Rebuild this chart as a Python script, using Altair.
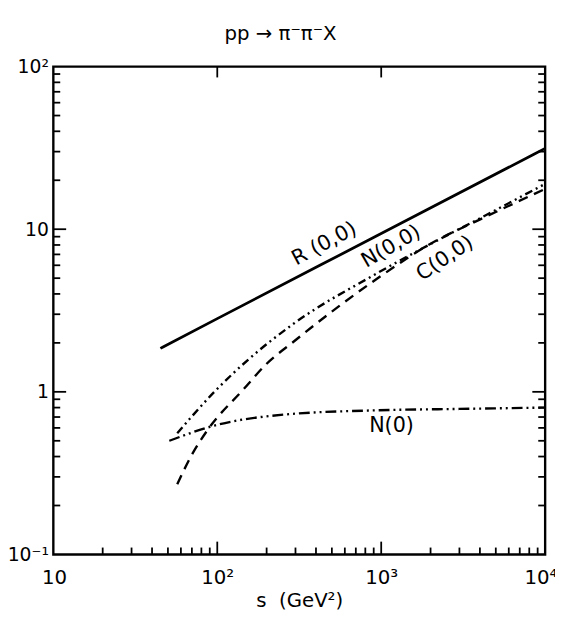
import altair as alt
import pandas as pd

# ---- data (s in GeV^2, y values) ----
R_s = [45, 100, 1000, 10000]
R_y = [1.85, 2.82, 9.4, 31.4]

N00_s = [57, 96, 157, 293, 910, 2090, 4020, 10000]
N00_y = [0.556, 1.0, 1.60, 2.63, 5.25, 8.3, 11.7, 19.0]

C00_s = [57, 69, 87, 145, 199, 293, 910, 2090, 4020, 10000]
C00_y = [0.27, 0.40, 0.58, 1.04, 1.48, 2.04, 4.84, 8.34, 11.5, 17.7]

N0_s = [51, 96, 262, 950, 3000, 10000]
N0_y = [0.50, 0.62, 0.726, 0.77, 0.785, 0.80]

label_text = ["R (0,0)", "N(0,0)", "C(0,0)", "N(0)"]
label_s = [450, 1150, 2450, 1156]
label_y = [8.1, 7.8, 6.6, 0.612]
label_angle = [332, 330, 326, 0]

x_major = [100, 1000]
x_minor = [m * d for d in (10, 100, 1000) for m in range(2, 10)]
y_major = [1, 10]
y_minor = [m * d for d in (0.1, 1, 10) for m in range(2, 10)]

W, H = 499, 495
FONT = "DejaVu Sans"

xs = alt.Scale(type="log", domain=[10, 10000])
ys = alt.Scale(type="log", domain=[0.1, 100])

xaxis = alt.Axis(values=[10, 100, 1000, 10000],
                 labelExpr="datum.value <= 11 ? '10' : datum.value <= 110 ? '10²' : datum.value <= 1100 ? '10³' : '10⁴'",
                 ticks=False, domain=False, grid=False, labelFontSize=20, labelFont=FONT,
                 labelPadding=13, labelColor="black", title="s\u00a0\u00a0(GeV²)", titleFont=FONT,
                 titleFontSize=20, titleFontWeight="normal", titlePadding=4, titleColor="black",
                 labelFlush=True, labelFlushOffset=12)
yaxis = alt.Axis(values=[0.1, 1, 10, 100],
                 labelExpr="datum.value >= 99 ? '10²' : datum.value >= 9 ? '10' : datum.value >= 0.9 ? '1' : '10⁻¹'",
                 ticks=False, domain=False, grid=False, labelFontSize=19, labelFont=FONT,
                 labelPadding=5, labelColor="black", title=None, labelFlush=False)


def curve(s, y, dash, width):
    df = pd.DataFrame({"s": s, "y": y})
    kw = dict(color="black", strokeWidth=width, interpolate="monotone", clip=True)
    if dash:
        kw["strokeDash"] = dash
    return alt.Chart(df).mark_line(**kw).encode(
        x=alt.X("s:Q", scale=xs, axis=xaxis),
        y=alt.Y("y:Q", scale=ys, axis=yaxis),
    )


base_layers = [
    curve(R_s, R_y, None, 2.8),
    curve(N00_s, N00_y, [8, 4, 2, 4, 2, 4], 2.4),
    curve(C00_s, C00_y, [10, 7], 2.4),
    curve(N0_s, N0_y, [11, 4, 2, 4, 2, 4], 2.4),
]

# curve labels
lab_layers = []
for t, s, y, a in zip(label_text, label_s, label_y, label_angle):
    lab_layers.append(
        alt.Chart(pd.DataFrame({"s": [s], "y": [y], "t": [t]})).mark_text(
            font=FONT, fontSize=21, angle=a, color="black", align="center", baseline="middle"
        ).encode(x=alt.X("s:Q", scale=xs), y=alt.Y("y:Q", scale=ys), text="t:N")
    )


def xticks(vals, y0, y1):
    return alt.Chart(pd.DataFrame({"v": vals})).mark_rule(color="black", strokeWidth=1.8).encode(
        x=alt.X("v:Q", scale=xs), y=alt.value(y0), y2=alt.value(y1))


def yticks(vals, x0, x1):
    return alt.Chart(pd.DataFrame({"v": vals})).mark_rule(color="black", strokeWidth=1.8).encode(
        y=alt.Y("v:Q", scale=ys), x=alt.value(x0), x2=alt.value(x1))


tick_layers = [
    xticks(x_minor, H, H - 7),
    xticks(x_major, H, H - 13),
    xticks(x_major, 0, 11),
    yticks(y_minor, 0, 7),
    yticks(y_major, 0, 13),
    yticks(y_minor, W, W - 7),
    yticks(y_major, W, W - 13),
]

chart = alt.layer(*base_layers, *lab_layers, *tick_layers).properties(
    width=W, height=H,
    title=alt.TitleParams("pp → π⁻π⁻X", font=FONT, fontSize=20, fontWeight="normal",
                          anchor="middle", dx=-19, offset=14, color="black"),
    autosize=alt.AutoSizeParams(type="none"),
    padding={"left": 46, "top": 55, "right": 10, "bottom": 58},
).configure(background="white").configure_view(stroke="black", strokeWidth=2.4)

chart.save("out.html", embed_options={"renderer": "svg", "actions": False})
